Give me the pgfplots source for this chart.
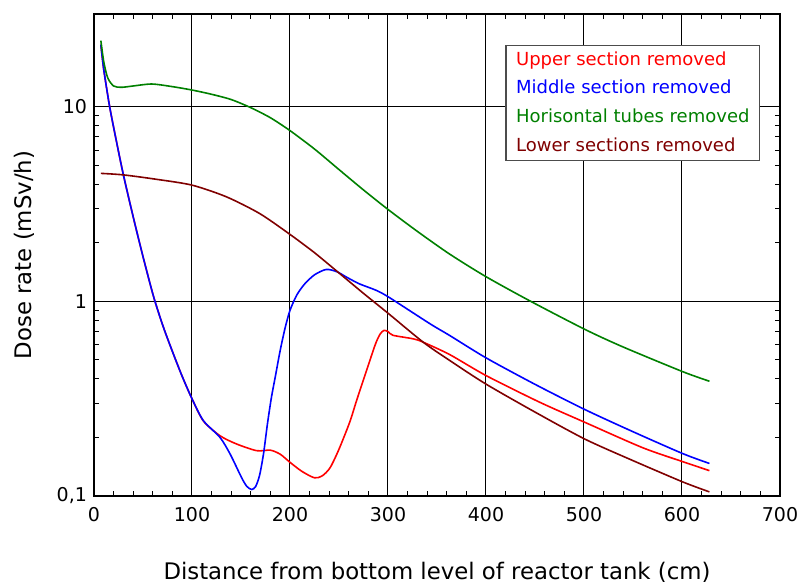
\documentclass[border=0pt]{standalone}
\usepackage{pgfplots}
\pgfplotsset{compat=1.18}
\usepackage{fontspec}
\setmainfont{DejaVu Sans}
\definecolor{cgreen}{RGB}{0,128,0}
\definecolor{cbrown}{RGB}{128,0,0}
\begin{document}
\begin{tikzpicture}
\useasboundingbox (-47pt,-44pt) rectangle (352pt,248pt);
\begin{axis}[
  at={(0,0)}, anchor=south west,
  scale only axis, width=343pt, height=241pt,
  ymode=log, xmin=0, xmax=700, ymin=0.1, ymax=30,
  xtick={0,100,...,700}, minor x tick num=4,
  ytick={0.1,1,10},
  log ticks with fixed point,
  /pgf/number format/use comma,
  /pgf/number format/assume math mode=true,
  tick align=inside, tick pos=both,
  major tick length=4pt, minor tick length=2.5pt,
  grid=major, major grid style={black, line width=0.5pt},
  axis line style={line width=1pt},
  tick style={black, line width=0.5pt},
  ticklabel style={font=\fontsize{9.5}{10}\selectfont},
  xticklabel style={yshift=-2pt},
  xlabel={Distance from bottom level of reactor tank (cm)},
  ylabel={Dose rate (mSv/h)},
  label style={font=\fontsize{11.4}{13}\selectfont},
  xlabel style={at={(axis description cs:0.5,-0.158)}, anchor=center},
  ylabel style={at={(axis description cs:-0.102,0.5)}, anchor=center},
  legend style={at={(axis description cs:0.971,0.936)}, anchor=north east,
    draw=black!70, line width=0.6pt, font=\fontsize{9}{10.5}\selectfont,
    row sep=2pt, inner xsep=3pt, inner ysep=1pt,
    cells={anchor=west}},
  legend image code/.code={},
  every axis plot/.append style={line width=0.8pt, smooth, tension=0.45},
]
\addplot[red] coordinates {(7,20.9) (10,15.5) (16,10) (23,6.61) (30,4.47) (40,2.72) (50,1.70) (61,1.05) (71,0.733) (81,0.537) (90,0.412) (100,0.316) (111.6,0.243) (128.6,0.204) (145.6,0.185) (166,0.171) (180,0.172) (190,0.164) (200,0.149) (212,0.134) (225,0.124) (233,0.127) (241,0.14) (250,0.174) (261,0.24) (268,0.31) (278,0.44) (287,0.6) (292,0.68) (296,0.71) (300,0.70) (305,0.67) (326,0.642) (336,0.617) (363,0.533) (400,0.416) (455,0.303) (501,0.239) (560,0.177) (601,0.15) (628,0.135)};
\addlegendentry{\textcolor{red}{Upper section removed}}
\addplot[blue] coordinates {(7,20.9) (10,15.5) (16,10) (23,6.61) (30,4.47) (40,2.72) (50,1.70) (61,1.05) (71,0.733) (81,0.537) (90,0.412) (100,0.316) (111.6,0.244) (128.6,0.2) (139,0.164) (150.7,0.124) (156,0.112) (161,0.108) (165,0.112) (169,0.128) (173,0.165) (177,0.235) (181,0.32) (185,0.41) (190,0.56) (195,0.73) (200,0.9) (207,1.08) (215,1.23) (225,1.37) (237,1.46) (248,1.42) (258,1.33) (271,1.23) (288,1.14) (301,1.05) (343,0.767) (363,0.668) (400,0.513) (450,0.375) (501,0.278) (550,0.214) (601,0.165) (628,0.147)};
\addlegendentry{\textcolor{blue}{Middle section removed}}
\addplot[cgreen] coordinates {(7,21.9) (10,17.0) (14,14.1) (20,12.8) (28,12.6) (40,12.8) (59,13.1) (80,12.7) (100,12.2) (120,11.6) (140,10.9) (160,9.9) (180,8.79) (200,7.55) (225,6.07) (250,4.76) (275,3.74) (300,2.97) (330,2.29) (363,1.75) (400,1.34) (445,1.005) (501,0.718) (540,0.583) (601,0.435) (628,0.389)};
\addlegendentry{\textcolor{cgreen}{Horisontal tubes removed}}
\addplot[cbrown] coordinates {(7,4.55) (30,4.47) (64,4.24) (100,3.96) (135,3.45) (169,2.83) (200,2.21) (225,1.78) (250,1.40) (275,1.1) (300,0.87) (336,0.617) (363,0.497) (400,0.376) (450,0.27) (501,0.196) (550,0.152) (601,0.118) (628,0.105)};
\addlegendentry{\textcolor{cbrown}{Lower sections removed}}
\end{axis}
\end{tikzpicture}
\end{document}
